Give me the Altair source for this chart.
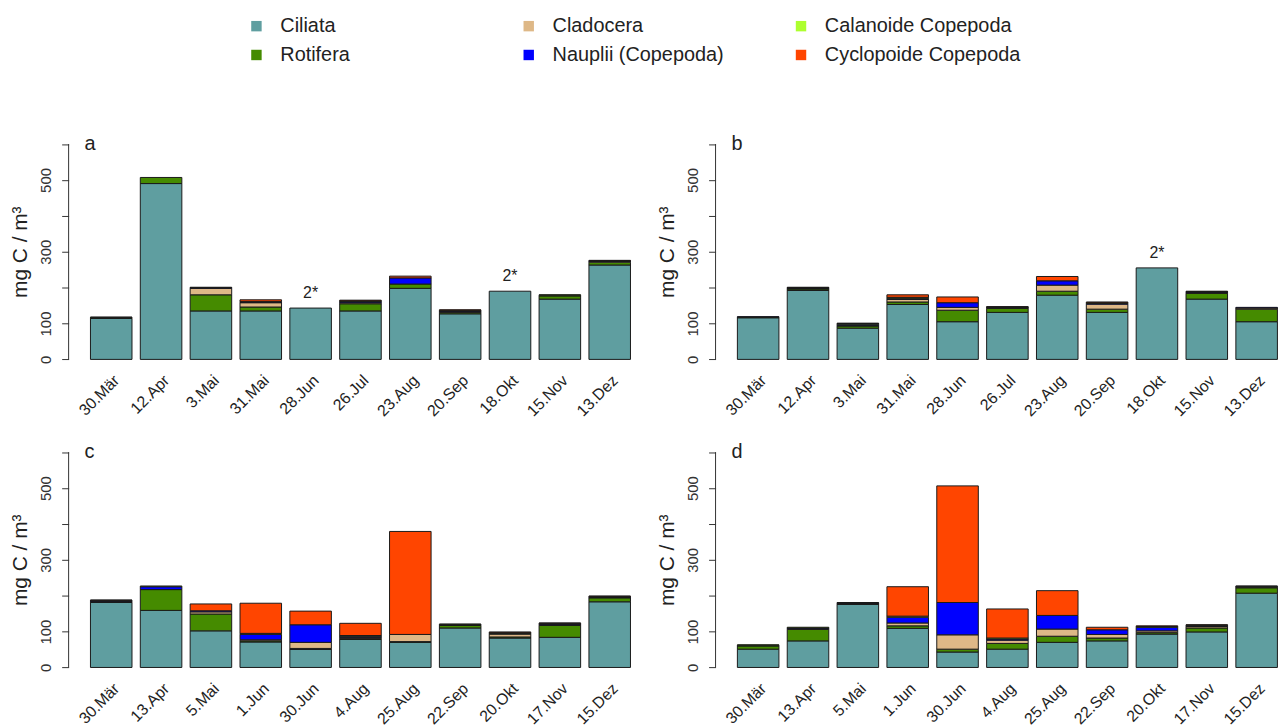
import altair as alt
import pandas as pd

categories = ["Ciliata", "Rotifera", "Cladocera", "Nauplii (Copepoda)",
              "Calanoide Copepoda", "Cyclopoide Copepoda"]
cat_colors = ["#5F9EA0", "#458B00", "#DEB887", "#0000FF", "#ADFF2F", "#FF4500"]

dates_ab = ["30.Mär", "12.Apr", "3.Mai", "31.Mai", "28.Jun", "26.Jul",
            "23.Aug", "20.Sep", "18.Okt", "15.Nov", "13.Dez"]
dates_cd = ["30.Mär", "13.Apr", "5.Mai", "1.Jun", "30.Jun", "4.Aug",
            "25.Aug", "22.Sep", "20.Okt", "17.Nov", "15.Dez"]

# panel a
a_ciliata = [114, 490, 135, 135, 143, 135, 198, 127, 190, 168, 263]
a_rotifera = [2, 17, 45, 11, 0, 20, 12, 4, 0, 9, 8]
a_cladocera = [0, 0, 18, 12, 0, 3, 0, 2, 0, 1, 2]
a_nauplii = [1, 0, 2, 2, 0, 3, 17, 2, 0, 1, 1]
a_calanoide = [1, 0, 1, 1, 0, 2, 0, 2, 0, 1, 1]
a_cyclopoide = [0, 0, 0, 5, 0, 2, 5, 1, 0, 0, 1]

# panel b
b_ciliata = [116, 192, 87, 153, 105, 131, 179, 131, 255, 168, 105]
b_rotifera = [2, 4, 6, 7, 32, 11, 11, 9, 0, 16, 35]
b_cladocera = [0, 2, 2, 7, 8, 2, 17, 14, 0, 2, 3]
b_nauplii = [1, 1, 3, 3, 13, 1, 12, 2, 0, 2, 2]
b_calanoide = [0, 1, 2, 3, 0, 1, 0, 2, 0, 1, 0]
b_cyclopoide = [0, 1, 1, 7, 16, 1, 12, 2, 0, 1, 0]

# panel c
c_ciliata = [181, 159, 102, 71, 50, 78, 70, 110, 82, 84, 183]
c_rotifera = [2, 58, 47, 3, 3, 3, 2, 7, 3, 33, 11]
c_cladocera = [1, 0, 6, 3, 17, 3, 20, 1, 8, 2, 1]
c_nauplii = [2, 8, 3, 15, 49, 3, 0, 2, 2, 2, 2]
c_calanoide = [1, 2, 0, 3, 0, 2, 0, 1, 2, 2, 1]
c_cyclopoide = [1, 0, 19, 84, 38, 34, 287, 0, 2, 1, 1]

# panel d
d_ciliata = [51, 74, 176, 109, 43, 51, 70, 74, 93, 99, 207]
d_rotifera = [9, 32, 1, 7, 8, 16, 17, 8, 4, 11, 15]
d_cladocera = [1, 2, 1, 8, 40, 9, 20, 10, 5, 4, 2]
d_nauplii = [1, 2, 2, 16, 90, 3, 38, 13, 10, 2, 2]
d_calanoide = [1, 2, 1, 3, 0, 3, 0, 0, 2, 2, 1]
d_cyclopoide = [0, 0, 0, 82, 325, 81, 69, 7, 2, 1, 0]

# "2*" annotations
notes_a = ["28.Jun", "18.Okt"]
notes_b = ["18.Okt"]
notes_c = []
notes_d = []

y_ticks = [0, 100, 200, 300, 400, 500, 600]
y_labelled = [0, 100, 300, 500]

FONT = "Liberation Sans"
TXT = "#222222"


def make_panel(letter, dates, series, notes):
    rows = []
    totals = {d: 0 for d in dates}
    for ci, (cat, vals) in enumerate(zip(categories, series)):
        for d, v in zip(dates, vals):
            totals[d] += v
            if v > 0:
                rows.append({"date": d, "category": cat, "value": v, "ord": ci})
    df = pd.DataFrame(rows)

    xscale = alt.Scale(domain=dates, paddingInner=1 / 6, paddingOuter=0.245, align=0.894)
    yscale = alt.Scale(domain=[-24, 624], nice=False, zero=False)
    lab_test = " || ".join(f"datum.value == {v}" for v in y_labelled)

    bars = alt.Chart(df).mark_bar(stroke="#1a1a1a", strokeWidth=1).encode(
        x=alt.X("date:N", sort=dates, scale=xscale, title=None,
                axis=alt.Axis(labelAngle=-45, domain=False, ticks=False,
                              labelFontSize=16, labelColor=TXT, labelPadding=4,
                              labelFont=FONT, labelOverlap=False, labelLimit=0)),
        y=alt.Y("value:Q", stack="zero", scale=yscale, title="mg C / m³",
                axis=alt.Axis(values=y_ticks, tickCount=20, domain=False, grid=False,
                              labelExpr=f"({lab_test}) ? datum.label : ''",
                              labelAngle=-90, labelFontSize=15, labelColor="#333333",
                              labelOverlap=False, labelBound=False, labelFlush=False,
                              tickSize=7, tickColor="#333333", labelPadding=8,
                              titleFontSize=21, titleFontWeight="normal", titleColor=TXT,
                              titlePadding=8, labelFont=FONT, titleFont=FONT)),
        color=alt.Color("category:N",
                        scale=alt.Scale(domain=categories, range=cat_colors),
                        legend=alt.Legend(title=None, columns=3, orient="none",
                                          legendX=179, legendY=-120,
                                          gridAlign="all", columnPadding=43, rowPadding=9,
                                          labelFontSize=20, labelFont=FONT, labelColor=TXT,
                                          labelLimit=0,
                                          symbolType="square", symbolSize=110,
                                          symbolStrokeWidth=0, labelOffset=14)),
        order=alt.Order("ord:Q", sort="ascending"),
    )

    axis_line = alt.Chart(pd.DataFrame({"k": [0]})).mark_rule(color="#333333").encode(
        x=alt.value(0), y=alt.datum(0), y2=alt.datum(600))

    tag = alt.Chart(pd.DataFrame({"t": [letter]})).mark_text(
        align="left", baseline="middle", fontSize=20, font=FONT, color=TXT
    ).encode(x=alt.value(16), y=alt.datum(600), text="t:N")

    layers = [bars, axis_line, tag]
    if notes:
        ndf = pd.DataFrame({"date": notes, "total": [totals[n] for n in notes],
                            "lab": ["2*"] * len(notes)})
        ann = alt.Chart(ndf).mark_text(baseline="bottom", dy=-7, fontSize=16,
                                       font=FONT, color=TXT).encode(
            x=alt.X("date:N", sort=dates),
            y=alt.Y("total:Q"), text="lab:N")
        layers.append(ann)

    return alt.layer(*layers).properties(width=568, height=234)


pa = make_panel("a", dates_ab, [a_ciliata, a_rotifera, a_cladocera, a_nauplii, a_calanoide, a_cyclopoide], notes_a)
pb = make_panel("b", dates_ab, [b_ciliata, b_rotifera, b_cladocera, b_nauplii, b_calanoide, b_cyclopoide], notes_b)
pc = make_panel("c", dates_cd, [c_ciliata, c_rotifera, c_cladocera, c_nauplii, c_calanoide, c_cyclopoide], notes_c)
pd_ = make_panel("d", dates_cd, [d_ciliata, d_rotifera, d_cladocera, d_nauplii, d_calanoide, d_cyclopoide], notes_d)

chart = alt.concat(pa, pb, pc, pd_, columns=2,
                   spacing=alt.RowColnumber(row=76, column=83),
                   bounds="flush").properties(
    padding={"left": 2, "top": 6, "right": 0, "bottom": 0}
).configure(font=FONT, view=alt.ViewConfig(stroke=None),
            axis=alt.AxisConfig(labelOverlap=False))

chart.save("out.html", embed_options={"renderer": "svg", "actions": False})
